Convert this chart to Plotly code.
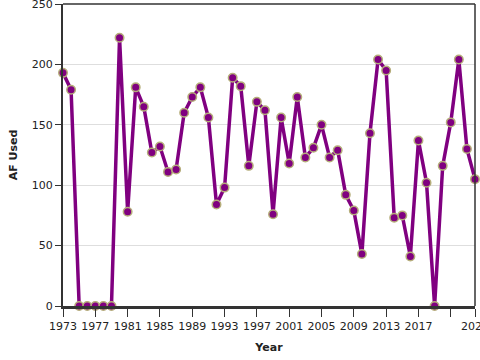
import plotly.graph_objects as go

years = list(range(1973, 2025))
af_used = [193, 179, 0, 0, 0, 0, 0, 222, 78, 181, 165, 127, 132, 111, 113, 160,
           173, 181, 156, 84, 98, 189, 182, 116, 169, 162, 76, 156, 118, 173, 123, 131,
           150, 123, 129, 92, 79, 43, 143, 204, 195, 73, 75, 41, 137, 102, 0, 116,
           152, 204, 130, 105]

x_tickvals = [1973, 1977, 1981, 1985, 1989, 1993, 1997, 2001, 2005, 2009, 2013, 2017, 2021, 2024]
x_ticktext = ["1973", "1977", "1981", "1985", "1989", "1993", "1997", "2001", "2005", "2009", "2013", "2017", "", "2024"]
y_tickvals = [0, 50, 100, 150, 200, 250]

fig = go.Figure()
fig.add_trace(go.Scatter(
    x=years, y=af_used, mode="lines+markers",
    line=dict(color="#800080", width=3.5),
    marker=dict(size=8.5, color="#800080", line=dict(color="#b5ad7a", width=1.5)),
    cliponaxis=False, showlegend=False,
))

font = "DejaVu Sans, Verdana, sans-serif"
fig.update_layout(
    width=480, height=360,
    margin=dict(l=63, r=5, t=4, b=54, autoexpand=False),
    paper_bgcolor="white", plot_bgcolor="white",
    font=dict(family=font, size=11, color="#222"),
    xaxis=dict(
        range=[1973, 2024], tickvals=x_tickvals, ticktext=x_ticktext,
        showgrid=False, zeroline=False, automargin=False,
        showline=True, linecolor="#333", linewidth=2.5,
        ticks="outside", ticklen=8, tickcolor="#333", tickwidth=1,
        tickfont=dict(size=11, color="#222"), ticklabeloverflow="allow",
        title=dict(text="<b>Year</b>", font=dict(size=11, color="#222"), standoff=12),
    ),
    yaxis=dict(
        range=[0, 250], tickvals=y_tickvals,
        showgrid=True, gridcolor="#dedede", gridwidth=1, zeroline=False, automargin=False,
        showline=True, linecolor="#333", linewidth=2,
        ticks="outside", ticklen=6, tickcolor="#333", tickwidth=1,
        tickfont=dict(size=11, color="#222"), ticklabeloverflow="allow",
        title=dict(text="<b>AF Used</b>", font=dict(size=11, color="#222"), standoff=12),
    ),
    shapes=[
        dict(type="line", xref="paper", yref="paper", x0=0, x1=1, y0=1, y1=1,
             line=dict(color="#333", width=1.5)),
        dict(type="line", xref="paper", yref="paper", x0=1, x1=1, y0=0, y1=1,
             line=dict(color="#333", width=1.5)),
    ],
)

fig.write_html("out.html", config={"displayModeBar": False},
               post_script="document.body.style.margin='0';")
